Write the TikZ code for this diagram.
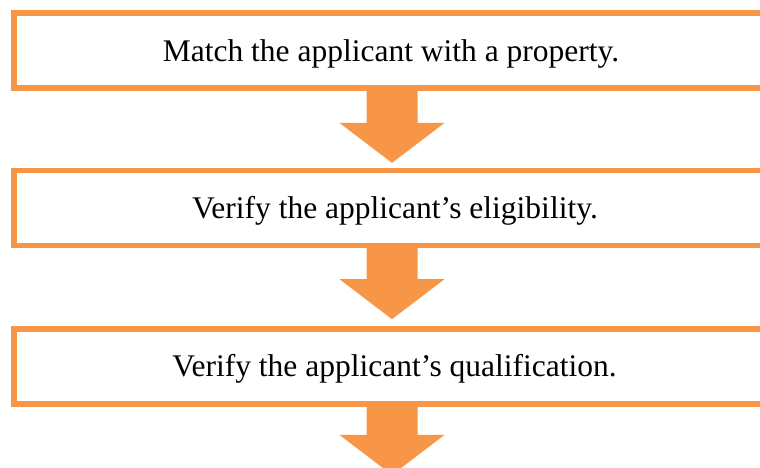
\documentclass[tikz,border=0pt]{standalone}
\usepackage{fontspec}
\setmainfont{Liberation Serif}
\usetikzlibrary{calc}
\definecolor{accorange}{HTML}{F79646}
\tikzset{
  stepbox/.style={draw=accorange, line width=5.3pt, fill=white, rectangle, minimum width=756pt, minimum height=75pt, inner sep=0pt, outer sep=0pt},
  steptext/.style={anchor=base, font=\fontsize{31.5}{36}\selectfont, inner sep=0pt},
  blockarrow/.style={fill=accorange, draw=none}
}
\newcommand{\downarrowblock}[2]{%
  \fill[blockarrow] ($(#1.south)+(-25.5pt,0)$) -- ($(#1.south)+(25.5pt,0)$)
    -- ($(#1.south)+(25.5pt,-#2)$) -- ($(#1.south)+(52.5pt,-#2)$)
    -- ($(#1.south)+(0,-#2-40pt)$) -- ($(#1.south)+(-52.5pt,-#2)$)
    -- ($(#1.south)+(-25.5pt,-#2)$) -- cycle;}
\begin{document}
\begin{tikzpicture}[x=1pt,y=-1pt]
\useasboundingbox (0,0) rectangle (760,468);
\clip (0,0) rectangle (760,468);
\node[stepbox] (b1) at (392,50.4) {};
\node[stepbox] (b2) at (392,208.2) {};
\node[stepbox] (b3) at (392,366.4) {};
\node[steptext] (t1) at (391,61.7) {Match the applicant with a property.};
\node[steptext] (t2) at (395,218.3) {Verify the applicant’s eligibility.};
\node[steptext] (t3) at (394.5,376.5) {Verify the applicant’s qualification.};
\downarrowblock{b1}{35pt}
\downarrowblock{b2}{33.5pt}
\downarrowblock{b3}{31pt}
\end{tikzpicture}
\end{document}
